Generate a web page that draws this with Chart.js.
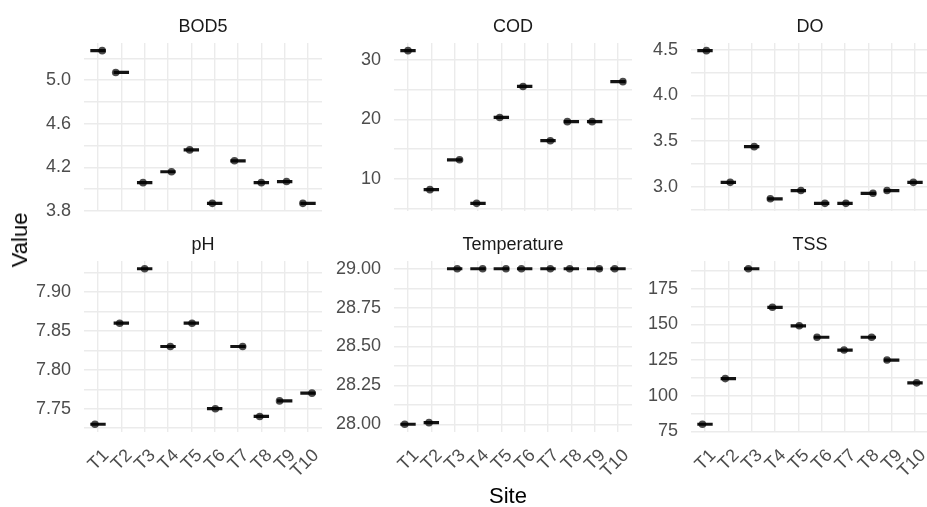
<!DOCTYPE html>
<html>
<head>
<meta charset="utf-8">
<script src="https://cdn.jsdelivr.net/npm/chart.js@4.4.1/dist/chart.umd.min.js"></script>
<style>
    body {
        margin: 0;
        width: 927px;
        height: 507px;
        overflow: hidden;
        position: relative;
        background: #fff;
        font-family: "Liberation Sans", Arial, sans-serif;
    }
    canvas { position: absolute; }
    .axisTitle { position: absolute; font-size: 22px; color: #000; white-space: nowrap; }
    #valueTitle { left: 20px; top: 240px; transform: translate(-50%, -50%) rotate(-90deg); }
    #siteTitle { left: 508px; top: 496px; transform: translate(-50%, -50%); }
</style>
</head>
<body>

<canvas id="bod5Chart" width="312" height="205" style="left:14px; top:18px"></canvas>
<canvas id="codChart" width="312" height="205" style="left:324px; top:18px"></canvas>
<canvas id="doChart" width="312" height="205" style="left:621px; top:18px"></canvas>
<canvas id="phChart" width="312" height="256" style="left:14px; top:236px"></canvas>
<canvas id="tempChart" width="312" height="256" style="left:324px; top:236px"></canvas>
<canvas id="tssChart" width="312" height="256" style="left:621px; top:236px"></canvas>

<div class="axisTitle" id="valueTitle">Value</div>
<div class="axisTitle" id="siteTitle">Site</div>

<script>
// sites on the x axis
const sites = ['T1', 'T2', 'T3', 'T4', 'T5', 'T6', 'T7', 'T8', 'T9', 'T10'];

// measured values per site
const bod5 = [5.27, 5.07, 4.06, 4.16, 4.36, 3.87, 4.26, 4.06, 4.07, 3.87];
const cod = [31.5, 8.2, 13.2, 5.9, 20.3, 25.5, 16.4, 19.6, 19.6, 26.3];
const dissolvedOxygen = [4.49, 3.05, 3.44, 2.87, 2.96, 2.82, 2.82, 2.93, 2.96, 3.05];
const ph = [7.73, 7.86, 7.93, 7.83, 7.86, 7.75, 7.83, 7.74, 7.76, 7.77];
const temperature = [28.0, 28.01, 29.0, 29.0, 29.0, 29.0, 29.0, 29.0, 29.0, 29.0];
const tss = [80, 112, 189, 162, 149, 141, 132, 141, 125, 109];

// horizontal jitter of the points (in site units)
const bod5Jitter = [0.18, -0.24, -0.07, 0.15, -0.07, -0.1, -0.15, 0, 0.08, -0.22];
const codJitter = [0, -0.06, 0.21, -0.06, -0.07, -0.07, 0.1, -0.17, -0.11, 0.21];
const doJitter = [0.06, 0.08, 0.11, -0.2, 0.11, 0.14, 0.04, 0.2, -0.2, -0.07];
const phJitter = [-0.13, -0.07, 0, 0.1, 0.03, 0.03, 0.2, -0.07, -0.22, 0.17];
const tempJitter = [-0.14, -0.1, 0.11, 0.2, 0.2, -0.14, 0.1, -0.07, 0.2, -0.14];
const tssJitter = [-0.11, -0.13, -0.14, -0.11, 0.04, -0.2, -0.04, 0.14, -0.2, 0.07];

// labelled y ticks per panel
const bod5Ticks = ['3.8', '4.2', '4.6', '5.0'];
const codTicks = ['10', '20', '30'];
const doTicks = ['3.0', '3.5', '4.0', '4.5'];
const phTicks = ['7.75', '7.80', '7.85', '7.90'];
const tempTicks = ['28.00', '28.25', '28.50', '28.75', '29.00'];
const tssTicks = ['75', '100', '125', '150', '175'];

const FONT = '"Liberation Sans", Arial, sans-serif';
const GRID = '#ebebeb';

function drawPanel(id, title, values, jitter, tickLabels, minorStep, showX) {
    const lo = Math.min(...values);
    const hi = Math.max(...values);
    const pad = (hi - lo) * 0.05;
    const majors = tickLabels.map(Number);

    // degenerate boxes: one short segment per site, broken by null points
    const medians = [];
    values.forEach((v, i) => {
        medians.push({ x: i + 1 - 0.33, y: v }, { x: i + 1 + 0.33, y: v }, { x: i + 1, y: null });
    });
    const points = values.map((v, i) => ({ x: i + 1 + jitter[i], y: v }));

    new Chart(document.getElementById(id), {
        type: 'scatter',
        data: {
            datasets: [{
                data: points,
                backgroundColor: 'rgba(0,0,0,0.7)',
                borderWidth: 0,
                pointRadius: 3.8,
                order: 0
            }, {
                data: medians,
                showLine: true,
                borderColor: '#141414',
                borderWidth: 3.2,
                pointRadius: 0,
                spanGaps: false,
                order: 1
            }]
        },
        options: {
            responsive: false,
            animation: false,
            events: [],
            layout: { padding: 0 },
            plugins: {
                legend: { display: false },
                tooltip: { enabled: false },
                title: {
                    display: true,
                    fullSize: false,
                    text: title,
                    color: '#1a1a1a',
                    font: { family: FONT, size: 18, weight: 'normal', lineHeight: 1 },
                    padding: { top: 0, bottom: 7 }
                }
            },
            scales: {
                x: {
                    type: 'linear',
                    min: 0.4,
                    max: 10.6,
                    afterFit: (s) => {
                        s.height = showX ? 60 : 12;
                        s.paddingLeft = 0;
                        s.paddingRight = 0;
                    },
                    border: { display: false },
                    grid: { color: GRID, lineWidth: 1.4, drawTicks: false },
                    ticks: {
                        display: showX,
                        stepSize: 1,
                        includeBounds: false,
                        autoSkip: false,
                        minRotation: 45,
                        maxRotation: 45,
                        padding: 13,
                        labelOffset: 8,
                        color: '#4d4d4d',
                        font: { family: FONT, size: 18 },
                        callback: (v) => sites[Math.round(v) - 1]
                    }
                },
                y: {
                    min: lo - pad,
                    max: hi + pad,
                    afterFit: (s) => {
                        s.width = 70;
                        s.paddingTop = 0;
                        s.paddingBottom = 0;
                    },
                    border: { display: false },
                    grid: { color: GRID, lineWidth: 1.4, drawTicks: false },
                    ticks: {
                        stepSize: minorStep,
                        includeBounds: false,
                        autoSkip: false,
                        padding: 13,
                        color: '#4d4d4d',
                        font: { family: FONT, size: 18 },
                        callback: (v) => {
                            const k = majors.findIndex(m => Math.abs(m - v) < minorStep / 10);
                            return k < 0 ? '' : tickLabels[k];
                        }
                    }
                }
            }
        }
    });
}

drawPanel('bod5Chart', 'BOD5', bod5, bod5Jitter, bod5Ticks, 0.2, false);
drawPanel('codChart', 'COD', cod, codJitter, codTicks, 5, false);
drawPanel('doChart', 'DO', dissolvedOxygen, doJitter, doTicks, 0.25, false);
drawPanel('phChart', 'pH', ph, phJitter, phTicks, 0.025, true);
drawPanel('tempChart', 'Temperature', temperature, tempJitter, tempTicks, 0.125, true);
drawPanel('tssChart', 'TSS', tss, tssJitter, tssTicks, 12.5, true);
</script>
</body>
</html>
